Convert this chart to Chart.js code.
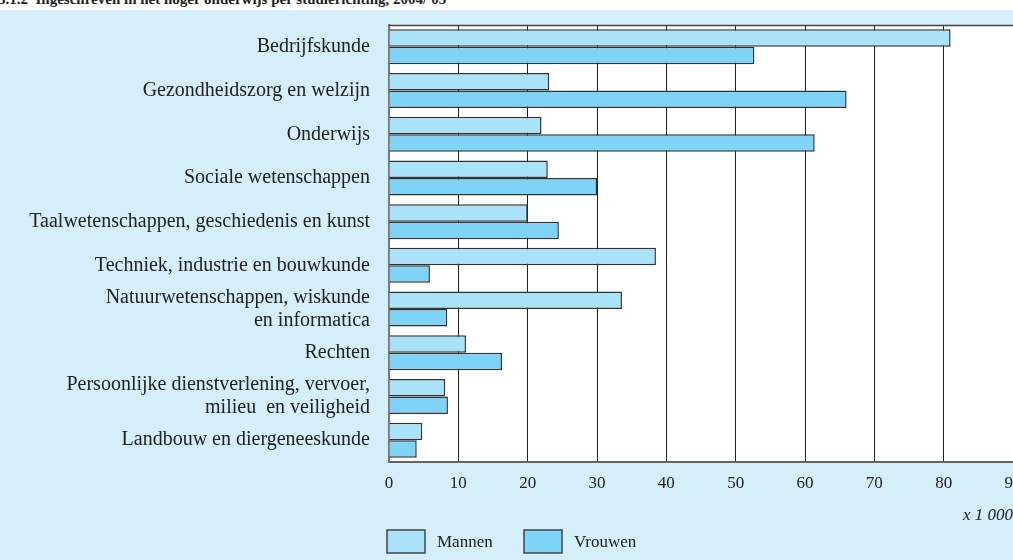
<!DOCTYPE html>
<html lang="nl">
<head>
    <meta charset="UTF-8">
    <title>Ingeschreven in het hoger onderwijs per studierichting</title>
    <style>
        html, body {
            margin: 0;
            padding: 0;
            background: #ffffff;
            overflow: hidden;
        }

        #title {
            height: 10px;
            overflow: hidden;
            position: relative;
        }

        #title span {
            position: absolute;
            left: -2px;
            top: -9px;
            font: bold 15px "Liberation Serif", serif;
            color: #222;
            white-space: nowrap;
        }

        #chartBox {
            width: 1013px;
            height: 550px;
            background: #d4eefa;
        }
    </style>
    <script src="https://cdn.jsdelivr.net/npm/chart.js"></script>
</head>
<body>
    <div id="title"><span>5.1.2&nbsp; Ingeschreven in het hoger onderwijs per studierichting, 2004/'05</span></div>
    <div id="chartBox">
        <canvas id="chart" width="1013" height="550"></canvas>
    </div>

    <script>
        // Studierichtingen (top to bottom)
        const categories = [
            'Bedrijfskunde',
            'Gezondheidszorg en welzijn',
            'Onderwijs',
            'Sociale wetenschappen',
            'Taalwetenschappen, geschiedenis en kunst',
            'Techniek, industrie en bouwkunde',
            ['Natuurwetenschappen, wiskunde', 'en informatica'],
            'Rechten',
            ['Persoonlijke dienstverlening, vervoer,', 'milieu  en veiligheid'],
            'Landbouw en diergeneeskunde'
        ];

        // x 1 000 ingeschrevenen
        const mannen = [81.0, 23.1, 22.0, 22.9, 20.0, 38.5, 33.6, 11.1, 8.1, 4.8];
        const vrouwen = [52.7, 66.0, 61.4, 30.0, 24.5, 5.9, 8.4, 16.3, 8.5, 4.0];

        const xTicks = [0, 10, 20, 30, 40, 50, 60, 70, 80, 90];

        const serif = '"Liberation Serif", "DejaVu Serif", serif';

        // white plot background and top border
        const plotArea = {
            id: 'plotArea',
            beforeDraw(chart) {
                const { ctx, chartArea: a } = chart;
                ctx.save();
                ctx.fillStyle = '#ffffff';
                ctx.fillRect(a.left, a.top, a.right - a.left, a.bottom - a.top);
                ctx.restore();
            },
            afterDatasetsDraw(chart) {
                const { ctx, chartArea: a } = chart;
                ctx.save();
                ctx.strokeStyle = '#444';
                ctx.lineWidth = 1.5;
                ctx.beginPath();
                ctx.moveTo(a.left, a.top + 0.5);
                ctx.lineTo(a.right, a.top + 0.5);
                ctx.stroke();
                ctx.restore();
            }
        };

        // legend below the axis, starting at the plot's left edge
        const bottomLegend = {
            id: 'bottomLegend',
            afterDraw(chart) {
                const { ctx, chartArea: a } = chart;
                const y = 520;
                let x = a.left - 2;
                ctx.save();
                ctx.font = '17px ' + serif;
                ctx.textBaseline = 'middle';
                chart.data.datasets.forEach(ds => {
                    ctx.fillStyle = ds.backgroundColor;
                    ctx.fillRect(x, y, 38, 23);
                    ctx.strokeStyle = '#444';
                    ctx.lineWidth = 1.5;
                    ctx.strokeRect(x, y, 38, 23);
                    ctx.fillStyle = '#222';
                    ctx.fillText(ds.label, x + 50, y + 13);
                    x += 137;
                });
                ctx.restore();
            }
        };

        const ctx = document.getElementById('chart').getContext('2d');
        const chart = new Chart(ctx, {
            type: 'bar',
            data: {
                labels: categories,
                datasets: [{
                    label: 'Mannen',
                    data: mannen,
                    backgroundColor: '#aae2fa',
                    borderColor: '#333',
                    borderWidth: 1.5,
                    borderSkipped: 'left'
                }, {
                    label: 'Vrouwen',
                    data: vrouwen,
                    backgroundColor: '#7fd3f7',
                    borderColor: '#333',
                    borderWidth: 1.5,
                    borderSkipped: 'left'
                }]
            },
            options: {
                indexAxis: 'y',
                responsive: false,
                animation: false,
                categoryPercentage: 0.8,
                barPercentage: 1.0,
                layout: {
                    padding: { left: 0, right: 0, top: 15, bottom: 0 }
                },
                plugins: {
                    legend: { display: false },
                    tooltip: { enabled: false }
                },
                scales: {
                    x: {
                        min: 0,
                        max: 90,
                        afterBuildTicks: scale => {
                            scale.ticks = xTicks.map(v => ({ value: v }));
                        },
                        afterFit: scale => {
                            scale.height = 98;
                            scale.paddingLeft = 0;
                            scale.paddingRight = 0;
                        },
                        grid: {
                            color: '#222',
                            lineWidth: 1,
                            drawTicks: false
                        },
                        border: {
                            color: '#666',
                            width: 2
                        },
                        ticks: {
                            padding: 11,
                            color: '#222',
                            font: { family: serif, size: 17 }
                        },
                        title: {
                            display: true,
                            text: 'x 1 000',
                            align: 'end',
                            color: '#222',
                            padding: { top: 0, bottom: 34 },
                            font: { family: serif, size: 17, style: 'italic' }
                        }
                    },
                    y: {
                        afterFit: scale => {
                            scale.width = 389;
                            scale.paddingTop = 0;
                            scale.paddingBottom = 0;
                        },
                        grid: {
                            display: false
                        },
                        border: {
                            color: '#777',
                            width: 2
                        },
                        ticks: {
                            autoSkip: false,
                            padding: 11,
                            color: '#222',
                            font: { family: serif, size: 20, lineHeight: 1.15 }
                        }
                    }
                }
            },
            plugins: [plotArea, bottomLegend]
        });
    </script>
</body>
</html>
